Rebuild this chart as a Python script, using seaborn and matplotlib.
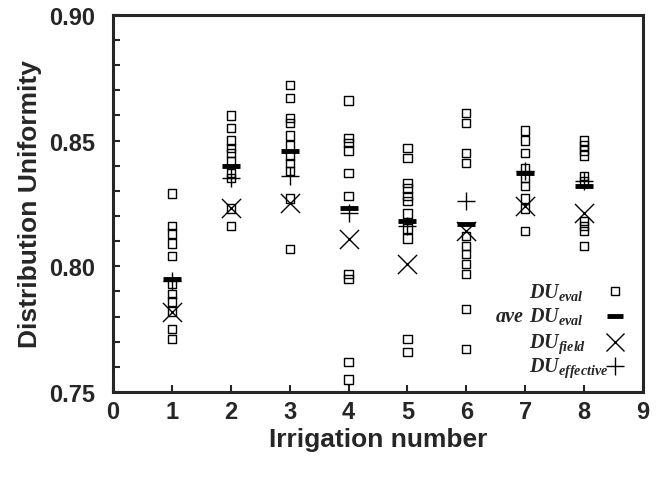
import numpy as np
import seaborn as sns
import pandas as pd
import matplotlib.pyplot as plt

# irrigation events
irrigation = [1, 2, 3, 4, 5, 6, 7, 8]

# DU_eval values read per irrigation
du_eval = {
    1: [0.829, 0.816, 0.813, 0.809, 0.804, 0.793, 0.789, 0.786, 0.782, 0.775, 0.771],
    2: [0.860, 0.855, 0.850, 0.847, 0.845, 0.842, 0.837, 0.835, 0.823, 0.816],
    3: [0.872, 0.867, 0.859, 0.857, 0.852, 0.848, 0.844, 0.841, 0.838, 0.827, 0.807],
    4: [0.866, 0.851, 0.849, 0.846, 0.837, 0.828, 0.797, 0.795, 0.762, 0.755],
    5: [0.847, 0.843, 0.833, 0.831, 0.828, 0.826, 0.821, 0.815, 0.811, 0.771, 0.766],
    6: [0.861, 0.857, 0.845, 0.841, 0.812, 0.808, 0.805, 0.801, 0.797, 0.783, 0.767],
    7: [0.854, 0.850, 0.845, 0.839, 0.835, 0.832, 0.827, 0.823, 0.814],
    8: [0.850, 0.848, 0.846, 0.844, 0.836, 0.834, 0.818, 0.816, 0.814, 0.808],
}
ave_du_eval = [0.795, 0.840, 0.846, 0.823, 0.818, 0.817, 0.837, 0.832]
du_field = [0.782, 0.823, 0.825, 0.811, 0.801, 0.814, 0.824, 0.821]
du_effective = [0.794, 0.835, 0.836, 0.821, 0.816, 0.826, 0.838, 0.834]

rows = []
for k, vals in du_eval.items():
    for v in vals:
        rows.append({"Irrigation": k, "DU": v})
eval_df = pd.DataFrame(rows)
summary = pd.DataFrame({"Irrigation": irrigation, "ave": ave_du_eval,
                        "field": du_field, "effective": du_effective})

sns.set_style("ticks")
plt.rcParams['font.family'] = ['Liberation Sans', 'DejaVu Sans']
plt.rcParams['mathtext.fontset'] = 'custom'
plt.rcParams['mathtext.it'] = 'Liberation Serif:italic:bold'
plt.rcParams['mathtext.rm'] = 'Liberation Serif:italic:bold'

fig, ax = plt.subplots(figsize=(6.58, 4.81), dpi=100)
fig.subplots_adjust(left=0.172, right=0.977, bottom=0.183, top=0.967)

sns.scatterplot(data=eval_df, x="Irrigation", y="DU", marker="s", s=36,
                facecolor="none", edgecolor="black", linewidth=1.0, ax=ax, zorder=3)
sns.scatterplot(data=summary, x="Irrigation", y="ave", marker="_", s=180,
                color="black", linewidth=3.5, ax=ax, zorder=4)
sns.scatterplot(data=summary, x="Irrigation", y="field", marker="x", s=190,
                color="black", linewidth=1.0, ax=ax, zorder=4)
sns.scatterplot(data=summary, x="Irrigation", y="effective", marker="+", s=160,
                color="black", linewidth=1.0, ax=ax, zorder=4)

ax.set_xlim(0, 9)
ax.set_ylim(0.75, 0.90)
ax.set_xticks(range(0, 10))
ax.set_yticks([0.75, 0.80, 0.85, 0.90])
ax.set_yticklabels(["0.75", "0.80", "0.85", "0.90"])
ax.set_yticks(np.arange(0.76, 0.90, 0.01), minor=True)
ax.tick_params(axis="both", which="both", direction="in", width=1.5, length=5,
               labelsize=17)
ax.tick_params(axis="y", which="both", pad=13)
ax.tick_params(axis="x", which="both", pad=6)
for lab in ax.get_xticklabels() + ax.get_yticklabels():
    lab.set_fontweight("bold")
for sp in ax.spines.values():
    sp.set_linewidth(2.2)

ax.set_xlabel("Irrigation number", fontsize=19, fontweight="bold", labelpad=3)
ax.set_ylabel("Distribution Uniformity", fontsize=19, fontweight="bold", labelpad=5)

# legend: text on the left, symbols in a column on the right
leg_font = {"family": "Liberation Serif", "weight": "bold", "style": "italic", "size": 14.5}
leg_labels = [r"$DU_{eval}$", r"$DU_{eval}$", r"$DU_{field}$", r"$DU_{effective}$"]
leg_text_y = [0.252, 0.188, 0.119, 0.056]
leg_mark_y = [0.268, 0.202, 0.133, 0.069]
for lab, ty in zip(leg_labels, leg_text_y):
    ax.text(0.785, ty, lab, transform=ax.transAxes, ha="left", va="baseline",
            fontdict=leg_font)
ax.text(0.774, leg_text_y[1], "ave", transform=ax.transAxes, ha="right",
        va="baseline", fontdict=leg_font)
ax.plot([0.947], [leg_mark_y[0]], marker="s", ls="none", mfc="none", mec="black",
        ms=6, mew=1.0, transform=ax.transAxes, clip_on=False)
ax.plot([0.947], [leg_mark_y[1]], marker="_", ls="none", color="black",
        ms=12, mew=3.5, transform=ax.transAxes, clip_on=False)
ax.plot([0.947], [leg_mark_y[2]], marker="x", ls="none", color="black",
        ms=13, mew=1.0, transform=ax.transAxes, clip_on=False)
ax.plot([0.947], [leg_mark_y[3]], marker="+", ls="none", color="black",
        ms=13, mew=1.0, transform=ax.transAxes, clip_on=False)

plt.savefig("out.png", dpi=100)
